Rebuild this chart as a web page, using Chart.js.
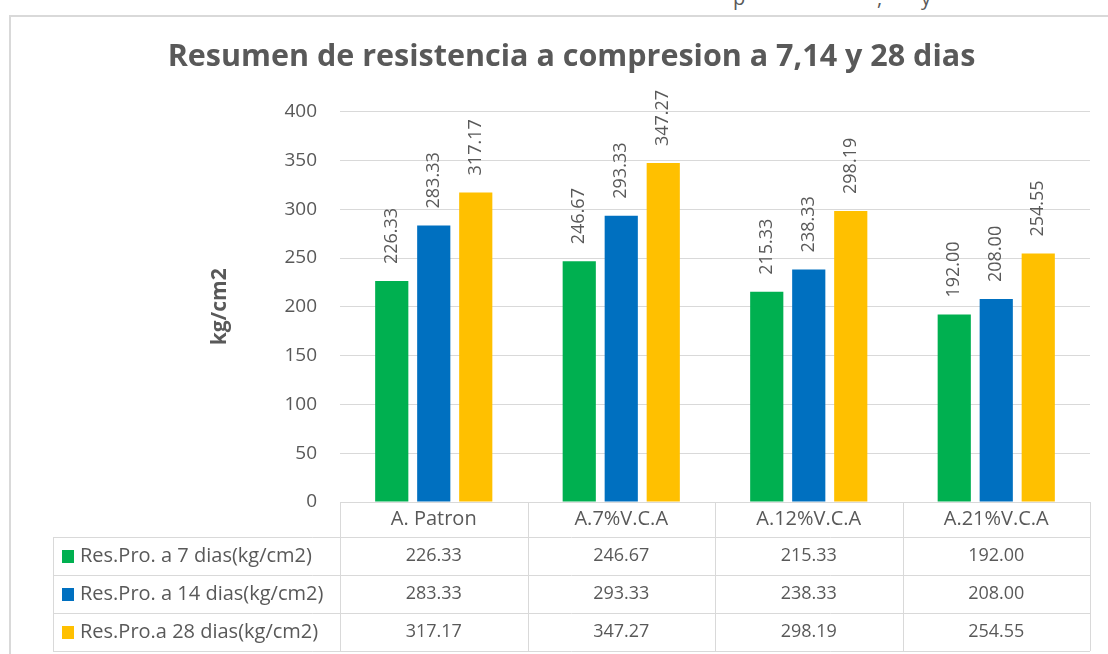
<!DOCTYPE html>
<html>
<head>
<meta charset="utf-8">
<title>Resumen de resistencia a compresion</title>
<script src="https://cdn.jsdelivr.net/npm/chart.js@4.4.0/dist/chart.umd.min.js"></script>
<style>
    body { margin: 0; background: #fff; width: 1108px; height: 654px; overflow: hidden; position: relative; font-family: 'Open Sans', sans-serif; }
    #frame { position: absolute; left: 9px; top: 15px; width: 1200px; height: 700px; border: 2px solid #d9d9d9; box-sizing: border-box; }
    #wrap { position: absolute; left: 0; top: 0; width: 1108px; height: 654px; }
    .frag { position: absolute; top: -16px; font-size: 20px; color: #595959; }
</style>
</head>
<body>
<div id="frame"></div>
<span class="frag" style="left:733px">p</span>
<span class="frag" style="left:877px">,</span>
<span class="frag" style="left:921px">y</span>
<div id="wrap"><canvas id="resChart" width="1108" height="654"></canvas></div>
<script>
// Datos del grafico
const categories = ['A. Patron', 'A.7%V.C.A', 'A.12%V.C.A', 'A.21%V.C.A'];
const seriesNames = ['Res.Pro. a 7 dias(kg/cm2)', 'Res.Pro. a 14 dias(kg/cm2)', 'Res.Pro.a 28 dias(kg/cm2)'];
const res7 = [226.33, 246.67, 215.33, 192.00];
const res14 = [283.33, 293.33, 238.33, 208.00];
const res28 = [317.17, 347.27, 298.19, 254.55];
const yMin = 0, yMax = 400, yStep = 50;
const colors = ['#00B050', '#0070C0', '#FFC000'];

const textColor = '#595959';
const lineColor = '#d9d9d9';
const font = '"Open Sans", sans-serif';

// Etiquetas de valor giradas encima de cada barra
const valueLabels = {
    id: 'valueLabels',
    afterDatasetsDraw(chart) {
        const ctx = chart.ctx;
        ctx.save();
        ctx.fillStyle = textColor;
        ctx.font = '18px ' + font;
        ctx.textAlign = 'left';
        ctx.textBaseline = 'middle';
        chart.data.datasets.forEach((ds, i) => {
            chart.getDatasetMeta(i).data.forEach((bar, j) => {
                ctx.save();
                ctx.translate(bar.x, bar.y - 17);
                ctx.rotate(-Math.PI / 2);
                ctx.fillText(ds.data[j].toFixed(2), 0, 0);
                ctx.restore();
            });
        });
        ctx.restore();
    }
};

// Tabla de datos debajo del eje X
const dataTable = {
    id: 'dataTable',
    afterDraw(chart) {
        const ctx = chart.ctx;
        const x = chart.scales.x;
        const top = chart.chartArea.bottom;
        const headH = 35, rowH = 38, legendLeft = 53;
        const colW = x.width / categories.length;
        const edges = categories.map((c, i) => x.left + i * colW).concat([x.right]);
        const rowsTop = top + headH;
        const bottom = rowsTop + rowH * seriesNames.length;
        const px = v => Math.round(v) + 0.5;

        ctx.save();
        ctx.strokeStyle = lineColor;
        ctx.lineWidth = 1;
        ctx.beginPath();
        // horizontales
        ctx.moveTo(edges[0], px(top)); ctx.lineTo(x.right, px(top));
        for (let r = 0; r <= seriesNames.length; r++) {
            const y = px(rowsTop + r * rowH);
            ctx.moveTo(legendLeft, y); ctx.lineTo(x.right, y);
        }
        // verticales
        ctx.moveTo(px(legendLeft), rowsTop); ctx.lineTo(px(legendLeft), bottom);
        edges.forEach(e => { ctx.moveTo(px(e), top); ctx.lineTo(px(e), bottom); });
        ctx.stroke();

        ctx.fillStyle = textColor;
        ctx.textBaseline = 'middle';
        ctx.textAlign = 'center';
        ctx.font = '20px ' + font;
        categories.forEach((c, i) => {
            ctx.fillText(c, x.getPixelForValue(i), top + headH / 2);
        });

        const series = chart.data.datasets;
        series.forEach((ds, r) => {
            const cy = rowsTop + r * rowH + rowH / 2;
            ctx.fillStyle = ds.backgroundColor;
            ctx.fillRect(legendLeft + 9, cy - 6, 12, 13);
            ctx.fillStyle = textColor;
            ctx.textAlign = 'left';
            ctx.font = '20px ' + font;
            ctx.fillText(ds.label, legendLeft + 27, cy);
            ctx.textAlign = 'center';
            ctx.font = '18px ' + font;
            ds.data.forEach((v, i) => {
                ctx.fillText(v.toFixed(2), x.getPixelForValue(i), cy);
            });
        });
        ctx.restore();
    }
};

const ctx = document.getElementById('resChart').getContext('2d');
new Chart(ctx, {
    type: 'bar',
    data: {
        labels: categories,
        datasets: [res7, res14, res28].map((d, i) => ({
            label: seriesNames[i],
            data: d,
            backgroundColor: colors[i],
            categoryPercentage: 0.672,
            barPercentage: 0.79
        }))
    },
    options: {
        responsive: false,
        animation: false,
        devicePixelRatio: 1,
        layout: { padding: { left: 53, right: 18, top: 0, bottom: 152 } },
        plugins: {
            legend: { display: false },
            tooltip: { enabled: false },
            title: {
                display: true,
                text: 'Resumen de resistencia a compresion a 7,14 y 28 dias',
                color: textColor,
                font: { family: font, size: 30.5, weight: 'bold' },
                padding: { top: 39, bottom: 36 }
            }
        },
        scales: {
            x: { display: false },
            y: {
                min: yMin,
                max: yMax,
                ticks: { stepSize: yStep, padding: 23, color: textColor, font: { family: font, size: 19 } },
                grid: { color: lineColor, drawTicks: false },
                border: { display: false },
                title: {
                    display: true,
                    text: 'kg/cm2',
                    color: textColor,
                    font: { family: font, size: 21, weight: 'bold' },
                    padding: { top: 154, bottom: 0 }
                },
                afterFit(scale) { scale.width = 287; }
            }
        }
    },
    plugins: [valueLabels, dataTable]
});
</script>
</body>
</html>
